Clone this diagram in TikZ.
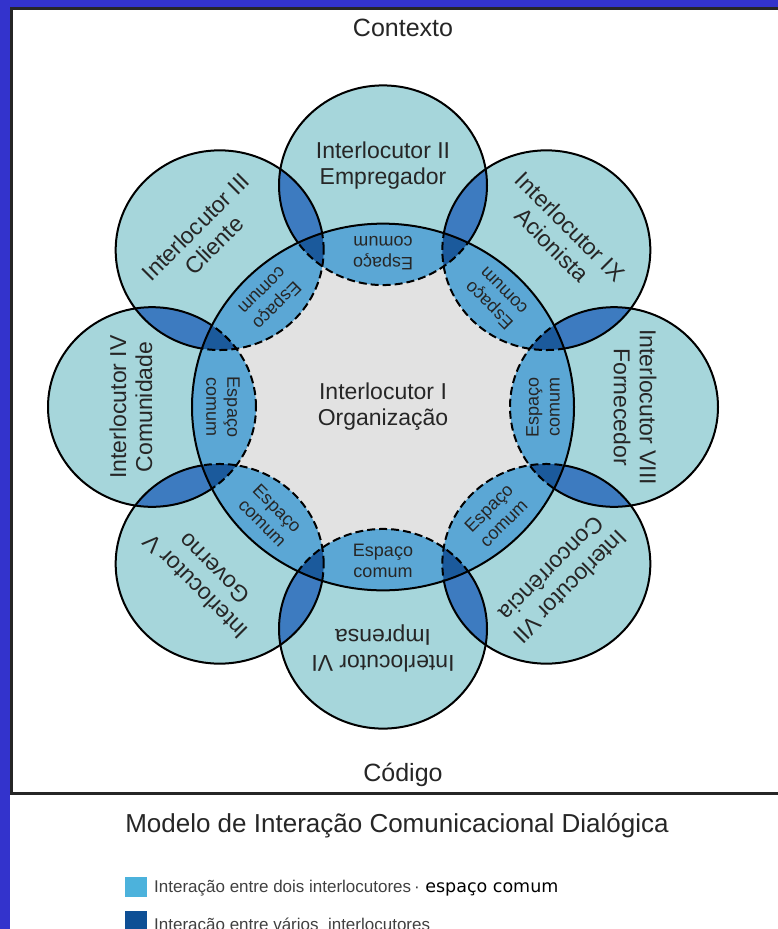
\documentclass[tikz,border=0pt]{standalone}
\usepackage{fontspec}
\setmainfont{Liberation Sans}
\newfontfamily\dejavu{DejaVu Sans}
\definecolor{framebg}{HTML}{3333CC}
\definecolor{outerc}{HTML}{A6D6DB}
\definecolor{commonc}{HTML}{5BA7D5}
\definecolor{lensc}{HTML}{3D7BC0}
\definecolor{triplec}{HTML}{1B5A9C}
\definecolor{centerc}{HTML}{E2E2E2}
\definecolor{legl}{HTML}{4CB2DC}
\definecolor{legd}{HTML}{0E4F95}
\definecolor{txt}{HTML}{262626}
\begin{document}
\begin{tikzpicture}[x=1pt,y=-1pt,
  lbl/.style={font=\fontsize{23}{26}\selectfont, align=center, text=txt, inner sep=0pt},
  commontxt/.style={font=\fontsize{18}{21}\selectfont, align=center, text=txt, inner sep=0pt},
  outline/.style={draw=black, line width=2},
  bigtxt/.style={font=\fontsize{25}{28}\selectfont, text=txt, inner sep=0pt}]
\useasboundingbox (0,0) rectangle (778,929);
\clip (0,0) rectangle (778,929);
\fill[white] (0,0) rectangle (778,929);
% frame
\fill[framebg] (0,0) rectangle (778,8);
\fill[framebg] (0,0) rectangle (10,929);
\draw[line width=3, black!85] (778,8.5) -- (11.5,8.5) -- (11.5,793) -- (778,793);
% diagram
\begin{scope}[shift={(383,407)}, yscale=-0.96]
  \foreach \a in {0,45,...,315} \fill[outerc] (\a:231) circle[radius=104];
  \foreach \a [evaluate=\a as \b using \a+45] in {0,45,...,315} {
    \begin{scope}
      \clip (\a:231) circle[radius=104];
      \fill[lensc] (\b:231) circle[radius=104];
    \end{scope}
  }
  \foreach \a in {0,45,...,315} \draw[outline] (\a:231) circle[radius=104];
  \fill[centerc] (0,0) circle[radius=191];
  \begin{scope}
    \clip (0,0) circle[radius=191];
    \foreach \a in {0,45,...,315} \fill[commonc] (\a:231) circle[radius=104];
    \foreach \a [evaluate=\a as \b using \a+45] in {0,45,...,315} {
      \begin{scope}
        \clip (\a:231) circle[radius=104];
        \fill[triplec] (\b:231) circle[radius=104];
      \end{scope}
    }
    \foreach \a in {0,45,...,315} \draw[outline, dash pattern=on 8pt off 4pt] (\a:231) circle[radius=104];
  \end{scope}
  \draw[outline] (0,0) circle[radius=191];
  % labels
  \node[lbl] (i1) at (0,0) {Interlocutor I\\Organização};
  \node[lbl, rotate=0] (i2) at (90:252) {Interlocutor II\\Empregador};
  \node[lbl, rotate=45] (i3) at (135:252) {Interlocutor III\\Cliente};
  \node[lbl, rotate=90] (i4) at (180:252) {Interlocutor IV\\Comunidade};
  \node[lbl, rotate=135] (i5) at (225:252) {Interlocutor V\\Governo};
  \node[lbl, rotate=180] (i6) at (270:252) {Interlocutor VI\\Imprensa};
  \node[lbl, rotate=225] (i7) at (315:252) {Interlocutor VII\\Concorrência};
  \node[lbl, rotate=270] (i8) at (0:252) {Interlocutor VIII\\Fornecedor};
  \node[lbl, rotate=315] (i9) at (45:252) {Interlocutor IX\\Acionista};
  \foreach \a [evaluate=\a as \r using \a+90] in {0,45,...,315}
    \node[commontxt, rotate=\r] (e\a) at (\a:160) {Espaço\\comum};
\end{scope}
% texts
\node[bigtxt] (ctx) at (403,28) {Contexto};
\node[bigtxt] (cod) at (403,775) {Código};
\node[font=\fontsize{26}{30}\selectfont, text=txt, inner sep=0pt] (title) at (397,826) {Modelo de Interação Comunicacional Dialógica};
% legend
\fill[legl] (125,877) rectangle (147,897);
\fill[legd] (125,911) rectangle (147,933);
\node[anchor=west, inner sep=0pt, text=black!75, font=\fontsize{17}{19}\selectfont] (leg1) at (154,888)
  {Interação entre dois interlocutores\,·\textcolor{black}{\dejavu\fontsize{17.5}{20}\selectfont\ espaço comum}};
\node[anchor=west, inner sep=0pt, text=black!75, font=\fontsize{17}{19}\selectfont] (leg2) at (154,926)
  {Interação entre vários\ \ interlocutores};
\end{tikzpicture}
\end{document}
